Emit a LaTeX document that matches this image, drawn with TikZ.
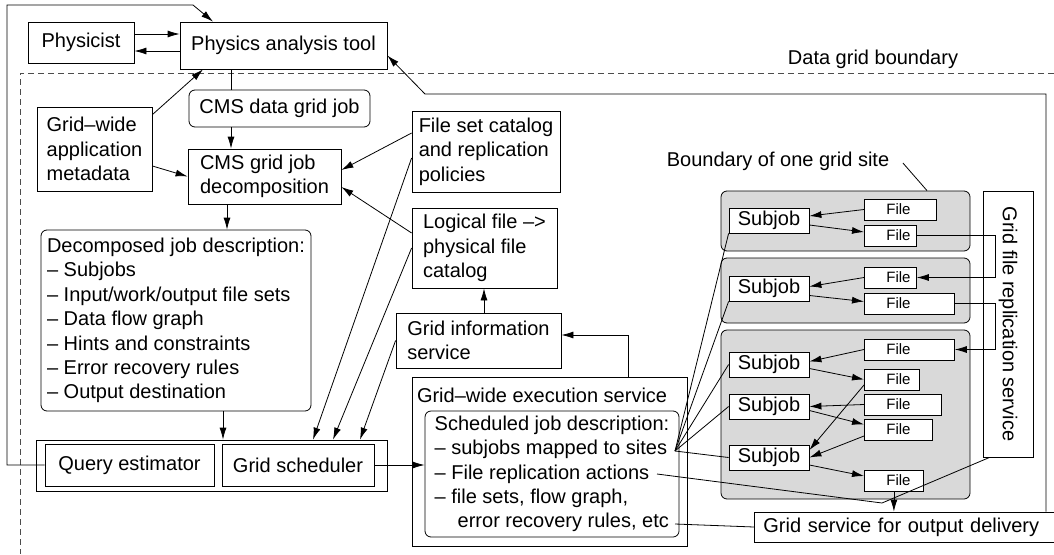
\documentclass[tikz,border=0pt]{standalone}
\usepackage{fontspec}
\setmainfont{Liberation Sans}
\usetikzlibrary{arrows.meta}

\tikzset{
  box/.style={draw, fill=white, inner sep=0pt, align=left},
  rbox/.style={box, rounded corners=6pt},
  site/.style={draw, fill=black!15, rounded corners=6pt, inner sep=0pt, minimum width=249pt},
  subjob/.style={box, minimum width=80pt, minimum height=25pt},
  file/.style={draw, fill=white, inner sep=0pt, align=left, anchor=west, minimum height=21pt, text width=#1, font=\fontsize{15}{18}\selectfont, execute at begin node=\hspace*{22pt}},
  arr/.style={-{Latex[length=12pt,width=7pt]}},
  bound/.style={draw=black!70, dash pattern=on 6pt off 4pt}
}

\begin{document}
\begin{tikzpicture}[x=1pt, y=-1pt, line width=0.8pt, font=\fontsize{20}{24.4}\selectfont]
\useasboundingbox (0,0) rectangle (1054,554);

\draw[bound] (1054,73) -- (20,73) -- (20,554);
\node (dgb) at (873,59) {Data grid boundary};

\node[box, minimum width=106pt, minimum height=41pt] (phys) at (81,42.5) {Physicist};
\node[box, minimum width=207pt, minimum height=47pt] (pat) at (283.5,45.5) {Physics analysis tool};
\node[rbox, minimum width=181pt, minimum height=37pt] (cmsjob) at (279.5,108.5) {CMS data grid job};
\node[box, minimum width=115pt, minimum height=84pt] (meta) at (94.5,149) {Grid–wide\\application\\metadata};
\node[box, minimum width=153pt, minimum height=55pt] (decomp) at (264.5,176.5) {CMS grid job\\decomposition};
\node[rbox, minimum width=270pt, minimum height=181pt] (desc) at (176,320.5) {Decomposed job description:\\– Subjobs\\– Input/work/output file sets\\– Data flow graph\\– Hints and constraints\\– Error recovery rules\\– Output destination};
\node[box, minimum width=351pt, minimum height=51pt] (sched) at (211.5,465.5) {};
\node[box, minimum width=169pt, minimum height=42pt] (qest) at (129.5,465) {Query estimator};
\node[box, minimum width=152pt, minimum height=42pt] (gsched) at (298,465) {Grid scheduler};

\node[box, minimum width=148pt, minimum height=81pt] (fscat) at (486,151.5) {File set catalog\\and replication\\policies};
\node[box, minimum width=145pt, minimum height=80pt] (lfcat) at (484.5,248) {Logical file –>\\physical file\\catalog};
\node[box, minimum width=165pt, minimum height=55pt] (gis) at (478.5,340.5) {Grid information\\service};
\node[box, minimum width=275pt, minimum height=169pt] (exec) at (549.5,461.5) {};
\node[anchor=west, inner sep=0pt] (execlbl) at ([xshift=5pt,yshift=-19pt]exec.north west) {Grid–wide execution service};
\node[rbox, minimum width=254pt, minimum height=126pt] (sjd) at (552,474) {Scheduled job description:\\– subjobs mapped to sites\\– File replication actions\\– file sets, flow graph,\\\hspace*{23pt}error recovery rules, etc};

\node (bnd) at (778,161) {Boundary of one grid site};
\node[site, minimum height=60pt] (site1) at (845.5,221) {};
\node[site, minimum height=65pt] (site2) at (845.5,290.5) {};
\node[site, minimum height=169pt] (site3) at (845.5,414.5) {};
\node[box, rotate=-90, minimum width=266pt, minimum height=50pt] (rep) at (1008,324) {Grid file replication service};
\node[box, anchor=west, minimum height=30pt, text width=292pt, inner xsep=9pt] (outdel) at (754,527) {Grid service for output delivery};

\foreach \n/\y in {s1/220.5, s2/288.5, s3a/364.5, s3b/406.5, s3c/457.5}
  \node[subjob] (\n) at (769,\y) {Subjob};
\foreach \n/\w/\y in {f1a/72/209.5, f1b/52/235.5, f2a/52/277.5, f2b/90/303.5, f3a/90/349.5,
                      f3b/55/379.5, f3c/77/404.5, f3d/68/429.5, f3e/59/480.5}
  \node[file=\w pt] (\n) at (864,\y) {File};

\draw[arr] ([yshift=8.5pt]phys.east) -- ([yshift=8.5pt]phys.east -| pat.west);
\draw[arr] ([yshift=-5.5pt]pat.west) -- ([yshift=-5.5pt]pat.west -| phys.east);
\draw[arr] (qest.west) -| (7,5) -- (193,5) -- ([xshift=-70.5pt]pat.north);
\draw ([xshift=-52.5pt]pat.south) -- ([xshift=-52.5pt]pat.south |- cmsjob.north);
\draw[arr] ([xshift=-48.5pt]cmsjob.south) -- ([xshift=-48.5pt]cmsjob.south |- decomp.north);
\draw[arr] ([yshift=-8pt]meta.north east) -- ([xshift=-80.5pt]pat.south);
\draw[arr] ([yshift=-17pt]meta.east) -- (decomp.west);
\draw[arr] ([xshift=-37.5pt]decomp.south) -- ([xshift=-37.5pt]decomp.south |- desc.north);
\draw[arr] ([xshift=47pt]desc.south) -- ([xshift=47pt]desc.south |- sched.north);
\draw[arr] ([yshift=18.5pt]fscat.west) -- ([yshift=6.5pt]decomp.east);
\draw[arr] ([yshift=15pt]lfcat.west) -- ([yshift=-10.5pt]decomp.east);
\draw[arr] ([yshift=-6.5pt]fscat.west) -- ([xshift=101.5pt]sched.north);
\draw[arr] (lfcat.west) -- ([xshift=121.5pt]sched.north);
\draw[arr] (gis.west) -- ([xshift=148.5pt]sched.north);
\draw[arr] ([xshift=5.5pt]gis.north) -- ([xshift=5.5pt]gis.north |- lfcat.south);
\draw[arr] ([xshift=78.5pt]exec.north) |- ([yshift=5.5pt]gis.east);
\draw[arr] (gsched.east) -- (gsched.east -| sjd.west);
\coordinate (rc) at (1046,94);
\draw[arr] (rc |- outdel.north) -- (rc) -- (425,94) -- ([yshift=-10pt]pat.east);

\draw ([xshift=10pt,yshift=-2pt]bnd.east) -- ([xshift=81.5pt]site1.north);
\draw[arr] (f1a.west) -- ([yshift=4.5pt]s1.east);
\draw[arr] ([yshift=-4.5pt]s1.east) -- ([yshift=3.5pt]f1b.west);
\draw[arr] (f1b.east) -- ++(79,0) |- (f2a.east);
\draw[arr] (f2a.west) -- ([yshift=2pt]s2.east);
\draw[arr] ([yshift=-7pt]s2.east) -- ([yshift=2pt]f2b.west);
\draw[arr] (f2b.east) -- ++(41,0) |- (f3a.east);
\draw[arr] (f3a.west) -- ([yshift=3pt]s3a.east);
\draw[arr] ([yshift=-4pt]s3a.east) -- (f3b.west);
\draw[arr] (f3c.west) -- (s3b.east);
\draw[arr] ([yshift=-4pt]s3b.east) -- ([yshift=5pt]f3d.west);
\draw[arr] ([yshift=-5.5pt]f3b.west) -- ([yshift=7.5pt]s3c.east);
\draw[arr] ([yshift=-6.5pt]f3d.west) -- (s3c.east);
\draw[arr] ([yshift=-7.5pt]s3c.east) -- ([yshift=4.5pt]f3e.west);
\draw[arr] (f3e.south) -- (f3e.south |- outdel.north);

\coordinate (subend) at (675,451);
\coordinate (repend) at (657,474);
\coordinate (etcend) at (675,524);
\foreach \t in {s1.south west, s2.south west, s3a.west, s3b.west, s3c.west}
  \draw (subend) -- (\t);
\draw (repend) -- (882,503) -- ([xshift=7pt]rep.south east);
\draw (etcend) -- (outdel.west);
\end{tikzpicture}
\end{document}
